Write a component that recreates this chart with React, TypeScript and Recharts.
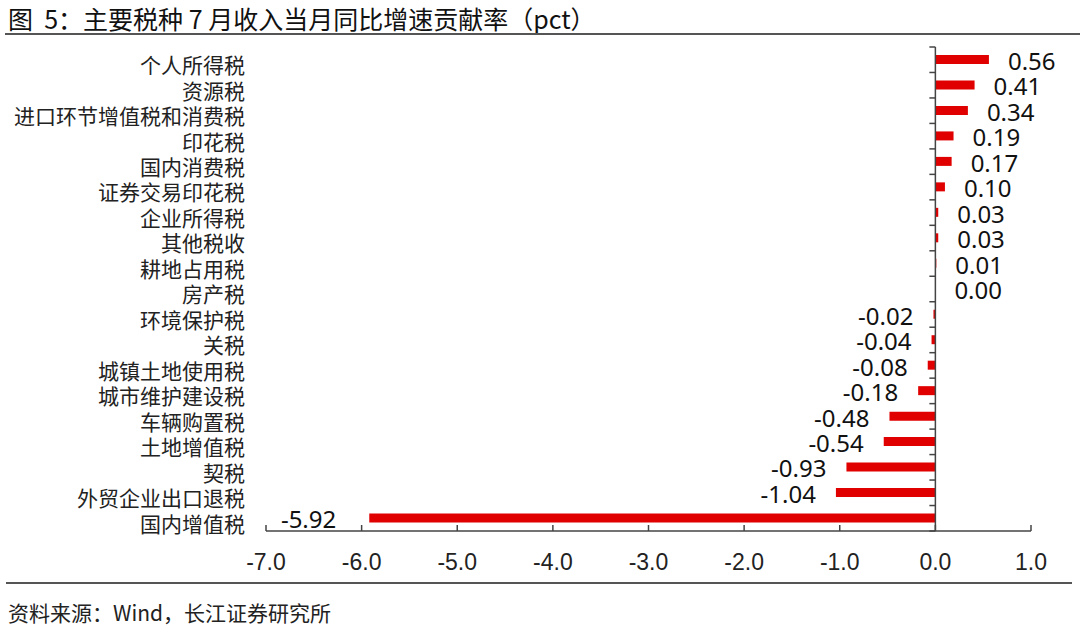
import React from 'react';
import { BarChart, Bar, XAxis, YAxis, ReferenceLine, LabelList } from 'recharts';

const categories = [
  '个人所得税', '资源税', '进口环节增值税和消费税', '印花税', '国内消费税', '证券交易印花税',
  '企业所得税', '其他税收', '耕地占用税', '房产税', '环境保护税', '关税', '城镇土地使用税',
  '城市维护建设税', '车辆购置税', '土地增值税', '契税', '外贸企业出口退税', '国内增值税',
];
const contributions = [
  0.56, 0.41, 0.34, 0.19, 0.17, 0.10, 0.03, 0.03, 0.01, 0.00, -0.02, -0.04, -0.08,
  -0.18, -0.48, -0.54, -0.93, -1.04, -5.92,
];
const xTicks = [-7, -6, -5, -4, -3, -2, -1, 0, 1];

const data = categories.map((name, i) => ({ name, value: contributions[i] }));

const RED = '#e00000';
const AXIS = '#444';
const CJK = '"Noto Sans CJK SC", "Noto Sans", sans-serif';

const CatTick = (props: any) => (
  <text x={props.x - 21} y={props.y + 6} dy="0.35em" textAnchor="end" fontSize={21} fill="#222" fontFamily={CJK}>
    {props.payload.value}
  </text>
);

const ValueTick = (props: any) => (
  <g>
    <line x1={props.x} x2={props.x} y1={props.y} y2={props.y - 6} stroke={AXIS} strokeWidth={1.5} />
    <text x={props.x} y={props.y + 31} dy="0.35em" textAnchor="middle" fontSize={23} fill="#222" fontFamily="'Liberation Sans', Arial, sans-serif">
      {Number(props.payload.value).toFixed(1)}
    </text>
  </g>
);

const ZeroLine = (props: any) => {
  const { x1, y1, y2 } = props;
  const step = (y2 - y1) / categories.length;
  const marks = [];
  for (let i = 0; i <= categories.length; i++) {
    const y = y1 + i * step;
    marks.push(<line key={i} x1={x1 - 6} x2={x1} y1={y} y2={y} stroke={AXIS} strokeWidth={1.5} />);
  }
  return (
    <g>
      <line x1={x1} x2={x1} y1={y1} y2={y2} stroke={AXIS} strokeWidth={1.5} />
      {marks}
    </g>
  );
};

const ValueLabel = (props: any) => {
  const { x, y, width, height, value } = props;
  const left = Math.min(x, x + width);
  const right = Math.max(x, x + width);
  const neg = value < 0;
  const gap = value < -5 ? 33 : 20;
  return (
    <text
      x={neg ? left - gap : right + 19}
      y={y + height / 2 + 2}
      dy="0.35em"
      textAnchor={neg ? 'end' : 'start'}
      fontSize={24}
      fill="#111"
      fontFamily="'Noto Sans', sans-serif"
    >
      {Number(value).toFixed(2)}
    </text>
  );
};

export default function App() {
  return (
    <div style={{ position: 'absolute', left: 0, top: 0, width: 1080, height: 634, background: '#fff', overflow: 'hidden' }}>
      <div style={{ position: 'absolute', left: 8, top: 3, fontSize: 25, color: '#111', fontFamily: CJK, whiteSpace: 'pre', lineHeight: '30px' }}>
        {'图  5：主要税种 7 月收入当月同比增速贡献率（pct）'}
      </div>
      <div style={{ position: 'absolute', left: 5, right: 0, top: 33, height: 2, background: '#555' }} />
      <div style={{ position: 'absolute', left: 0, top: 0 }}>
        <BarChart
          width={1080}
          height={634}
          data={data}
          layout="vertical"
          margin={{ top: 47, right: 49, bottom: 73, left: 0 }}
          barCategoryGap={0}
        >
          <XAxis
            type="number"
            domain={[-7, 1]}
            ticks={xTicks}
            height={30}
            tickSize={0}
            tickMargin={0}
            tickLine={false}
            tick={<ValueTick />}
            axisLine={{ stroke: AXIS, strokeWidth: 1.5 }}
            interval={0}
          />
          <YAxis
            type="category"
            dataKey="name"
            width={266}
            tickSize={0}
            tickMargin={0}
            tickLine={false}
            axisLine={false}
            tick={<CatTick />}
            interval={0}
          />
          <Bar
            dataKey="value"
            fill={RED}
            barSize={9}
            minPointSize={(v: number) => (v === 0 ? 0.01 : 0)}
            isAnimationActive={false}
          >
            <LabelList dataKey="value" content={<ValueLabel />} />
          </Bar>
          <ReferenceLine x={0} shape={<ZeroLine />} ifOverflow="visible" />
        </BarChart>
      </div>
      <div style={{ position: 'absolute', left: 6, right: 8, top: 582, height: 2, background: '#555' }} />
      <div style={{ position: 'absolute', left: 8, top: 598, fontSize: 21, color: '#222', fontFamily: CJK, lineHeight: '28px' }}>
        资料来源：Wind，长江证券研究所
      </div>
    </div>
  );
}
